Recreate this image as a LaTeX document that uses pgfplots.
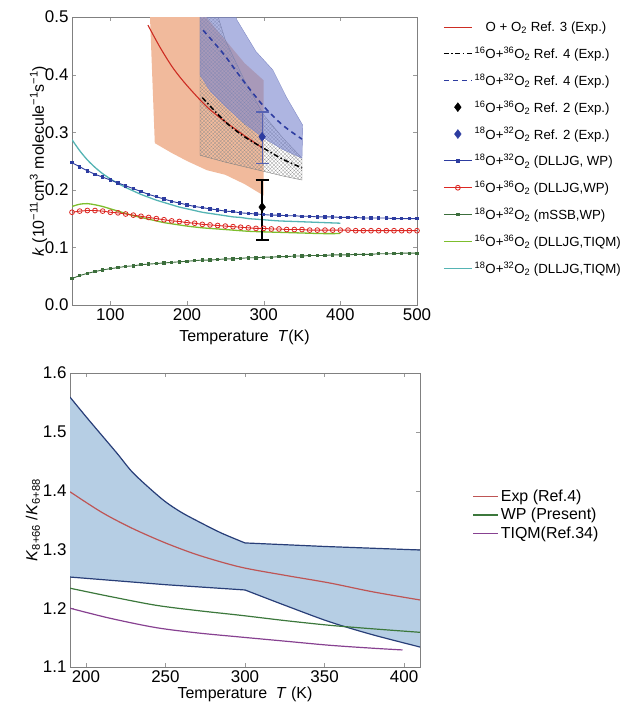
\documentclass[border=0pt]{standalone}
\usepackage{fontspec}
\setmainfont{Liberation Sans}
\usepackage{pgfplots}
\pgfplotsset{compat=1.18}
\usetikzlibrary{patterns.meta}
\definecolor{cOrange}{RGB}{241,186,156}
\definecolor{cBlueBand}{RGB}{120,132,205}
\definecolor{cRed}{RGB}{205,45,35}
\definecolor{cBlue}{RGB}{45,60,160}
\definecolor{cRedC}{RGB}{220,40,35}
\definecolor{cDGreen}{RGB}{60,110,60}
\definecolor{cLGreen}{RGB}{125,190,45}
\definecolor{cCyan}{RGB}{85,180,180}
\definecolor{cBand2}{RGB}{182,206,228}
\definecolor{cEdge2}{RGB}{40,62,120}
\definecolor{cRed2}{RGB}{190,85,85}
\definecolor{cGreen2}{RGB}{60,120,60}
\definecolor{cPurple2}{RGB}{135,65,145}
\pgfplotsset{
  every tick label/.append style={font=\fontsize{17}{20}\selectfont},
  every axis label/.append style={font=\fontsize{16}{19}\selectfont},
  /pgf/number format/assume math mode=true,
  mystyle/.style={scale only axis, anchor=north west,
    axis line style={gray}, tick style={gray!80}, major tick length=4bp},
}
\begin{document}
\begin{tikzpicture}
\path[use as bounding box] (0bp,0bp) rectangle (641bp,-711bp);
% ---------------- top panel ----------------
\begin{axis}[mystyle, at={(72bp,-17bp)}, width=345bp, height=288bp,
  xmin=50, xmax=500, ymin=0, ymax=0.5,
  xtick={100,200,300,400,500}, ytick={0,0.1,0.2,0.3,0.4,0.5},
  yticklabel style={/pgf/number format/.cd, fixed, fixed zerofill, precision=1},
  xlabel={Temperature \ \textit{T}(K)},
  ylabel={\textit{k} (10\textsuperscript{−11}cm\textsuperscript{3} molecule\textsuperscript{−1}s\textsuperscript{−1})},
  xlabel style={yshift=-3bp}, ylabel style={yshift=-9bp},
  legend image code/.code={\draw[mark repeat=2,mark phase=2,#1] plot coordinates {(0bp,0bp) (14bp,0bp) (28bp,0bp)};},
  legend style={at={(1.075,0.99)}, anchor=north west, draw=none, fill=none,
    font=\fontsize{13.3}{16}\selectfont, cells={anchor=west}, row sep=9.7bp, inner sep=0pt},
]
% orange band (Ref. 3)
\addplot[forget plot, fill=cOrange, draw=none] coordinates {
 (146,0.70) (175,0.62) (200,0.56) (225,0.50) (250,0.46) (275,0.42) (300,0.39)
 (300,0.190) (275,0.210) (250,0.226) (226,0.234) (200,0.250) (180,0.264) (158,0.281)} --cycle;
% hatched band (16O+36O2 Ref. 4)
\addplot[forget plot, pattern={Hatch[angle=45,distance=2.6bp,line width=0.18bp]}, pattern color=black!45, draw=gray, line width=0.4bp] coordinates {
 (217,0.60) (250,0.46) (275,0.39) (300,0.33) (325,0.29) (350,0.255)
 (350,0.217) (325,0.224) (300,0.232) (275,0.240) (250,0.248) (217,0.260)} --cycle;
% blue band (18O+32O2 Ref. 4)
\addplot[forget plot, fill=cBlueBand, fill opacity=0.6, draw=cBlue!60, line width=0.4bp] coordinates {
 (217,0.72) (240,0.60) (265,0.495) (290,0.44) (312,0.408) (330,0.36) (351,0.312)
 (350,0.255) (325,0.270) (300,0.290) (275,0.315) (250,0.345) (230,0.372) (217,0.40)} --cycle;
% red line Ref 3
\addplot[forget plot, cRed, line width=1.1bp, smooth] coordinates {
 (149,0.486) (165,0.447) (182,0.411) (200,0.381) (226,0.344) (250,0.318) (275,0.294) (298,0.273)};
% black dash-dot Ref 4
\addplot[forget plot, black, line width=1.5bp, dash pattern=on 5bp off 2.5bp on 1.5bp off 2.5bp, smooth] coordinates {
 (220,0.36) (250,0.318) (275,0.292) (304,0.269) (325,0.253) (350,0.238)};
% blue dashed Ref 4
\addplot[forget plot, cBlue, line width=1.6bp, dash pattern=on 5bp off 4bp, smooth] coordinates {
 (221,0.477) (247,0.437) (273,0.390) (300,0.345) (325,0.312) (350,0.288)};
% light green TIQM 16O
\addplot[forget plot, cLGreen, line width=1.3bp, smooth] coordinates {
 (50,0.171) (60,0.175) (70,0.176) (80,0.174) (90,0.171) (100,0.167) (110,0.163) (120,0.159)
 (130,0.155) (140,0.152) (150,0.149) (160,0.146) (170,0.143) (180,0.141) (190,0.139) (200,0.137)
 (220,0.134) (240,0.132) (260,0.130) (280,0.128) (300,0.127) (325,0.126) (350,0.125) (375,0.124) (400,0.124)};
% cyan TIQM 18O
\addplot[forget plot, cCyan, line width=1.3bp, smooth] coordinates {
 (50,0.287) (60,0.268) (70,0.252) (80,0.239) (90,0.228) (100,0.219) (110,0.211) (120,0.204)
 (130,0.198) (140,0.192) (150,0.187) (160,0.182) (170,0.178) (180,0.174) (190,0.170) (200,0.167)
 (210,0.164) (220,0.161) (230,0.159) (240,0.157) (250,0.155) (260,0.153) (270,0.152) (280,0.150)
 (290,0.149) (300,0.148) (320,0.146) (340,0.145) (360,0.144) (380,0.143) (400,0.142)};
% blue WP
\addplot[forget plot, cBlue, line width=0.9bp, mark=square*, mark size=1.2bp] coordinates {
 (50,0.247) (60,0.240) (70,0.233) (80,0.227) (90,0.222) (100,0.217) (110,0.212) (120,0.207)
 (130,0.202) (140,0.197) (150,0.192) (160,0.188) (170,0.184) (180,0.180) (190,0.177) (200,0.174)
 (210,0.171) (220,0.169) (230,0.167) (240,0.165) (250,0.163) (260,0.162) (270,0.160) (280,0.159)
 (290,0.158) (300,0.157) (310,0.156) (320,0.156) (330,0.155) (340,0.155) (350,0.154) (360,0.154)
 (370,0.153) (380,0.153) (390,0.153) (400,0.152) (410,0.152) (420,0.152) (430,0.151) (440,0.151)
 (450,0.151) (460,0.151) (470,0.150) (480,0.150) (490,0.150) (500,0.150)};
% red WP circles
\addplot[forget plot, cRedC, line width=0.9bp, mark=o, mark size=2.4bp, mark options={line width=0.8bp}] coordinates {
 (50,0.161) (60,0.163) (70,0.164) (80,0.164) (90,0.163) (100,0.161) (110,0.160) (120,0.158)
 (130,0.156) (140,0.154) (150,0.152) (160,0.150) (170,0.148) (180,0.146) (190,0.145) (200,0.143)
 (210,0.142) (220,0.140) (230,0.139) (240,0.138) (250,0.137) (260,0.136) (270,0.135) (280,0.134)
 (290,0.133) (300,0.133) (310,0.132) (320,0.132) (330,0.131) (340,0.131) (350,0.131) (360,0.130)
 (370,0.130) (380,0.130) (390,0.130) (400,0.130) (410,0.130) (420,0.129) (430,0.129) (440,0.129)
 (450,0.129) (460,0.129) (470,0.129) (480,0.129) (490,0.129) (500,0.129)};
% dark green mSSB WP
\addplot[forget plot, cDGreen, line width=0.9bp, mark=square*, mark size=1.2bp] coordinates {
 (50,0.046) (60,0.051) (70,0.055) (80,0.058) (90,0.061) (100,0.063) (110,0.065) (120,0.067)
 (130,0.068) (140,0.070) (150,0.071) (160,0.072) (170,0.073) (180,0.074) (190,0.075) (200,0.076)
 (210,0.077) (220,0.078) (230,0.078) (240,0.079) (250,0.080) (260,0.080) (270,0.081) (280,0.082)
 (290,0.082) (300,0.083) (310,0.083) (320,0.084) (330,0.084) (340,0.085) (350,0.085) (360,0.086)
 (370,0.086) (380,0.086) (390,0.087) (400,0.087) (410,0.087) (420,0.088) (430,0.088) (440,0.088)
 (450,0.089) (460,0.089) (470,0.089) (480,0.090) (490,0.090) (500,0.090)};
% Ref. 2 points with error bars
\addplot[forget plot, only marks, mark=diamond*, mark size=4.5bp, black,
  error bars/.cd, y dir=both, y explicit,
  error bar style={line width=1.3bp, black}, error mark options={rotate=90, mark size=6.5bp, line width=1.3bp, black}]
  coordinates {(298,0.170) += (0,0.047) -= (0,0.057)};
\addplot[forget plot, only marks, mark=diamond*, mark size=4.5bp, cBlue,
  error bars/.cd, y dir=both, y explicit,
  error bar style={line width=1.1bp, cBlue!80}, error mark options={rotate=90, mark size=6.5bp, line width=1.1bp, cBlue!80}]
  coordinates {(298,0.292) += (0,0.043) -= (0,0.047)};
% legend
\addlegendimage{cRed, line width=1.3bp}
\addlegendentry{\ \ \ O + O\textsubscript{2} Ref. 3 (Exp.)}
\addlegendimage{black, line width=1.5bp, dash pattern=on 5bp off 2.5bp on 1.5bp off 2.5bp}
\addlegendentry{\textsuperscript{16}O+\textsuperscript{36}O\textsubscript{2} Ref. 4 (Exp.)}
\addlegendimage{cBlue, line width=1.6bp, dash pattern=on 5bp off 4bp}
\addlegendentry{\textsuperscript{18}O+\textsuperscript{32}O\textsubscript{2} Ref. 4 (Exp.)}
\addlegendimage{only marks, mark=diamond*, mark size=4.5bp, black}
\addlegendentry{\textsuperscript{16}O+\textsuperscript{36}O\textsubscript{2} Ref. 2 (Exp.)}
\addlegendimage{only marks, mark=diamond*, mark size=4.5bp, cBlue}
\addlegendentry{\textsuperscript{18}O+\textsuperscript{32}O\textsubscript{2} Ref. 2 (Exp.)}
\addlegendimage{cBlue, line width=0.9bp, mark=square*, mark size=1.2bp}
\addlegendentry{\textsuperscript{18}O+\textsuperscript{32}O\textsubscript{2} (DLLJG, WP)}
\addlegendimage{cRedC, line width=0.9bp, mark=o, mark size=2.4bp}
\addlegendentry{\textsuperscript{16}O+\textsuperscript{36}O\textsubscript{2} (DLLJG,WP)}
\addlegendimage{cDGreen, line width=0.9bp, mark=square*, mark size=1.2bp}
\addlegendentry{\textsuperscript{18}O+\textsuperscript{32}O\textsubscript{2} (mSSB,WP)}
\addlegendimage{cLGreen, line width=1.5bp}
\addlegendentry{\textsuperscript{16}O+\textsuperscript{36}O\textsubscript{2} (DLLJG,TIQM)}
\addlegendimage{cCyan, line width=1.5bp}
\addlegendentry{\textsuperscript{18}O+\textsuperscript{32}O\textsubscript{2} (DLLJG,TIQM)}
\end{axis}
% ---------------- bottom panel ----------------
\begin{axis}[mystyle, at={(70bp,-373bp)}, width=350bp, height=294bp,
  xmin=190, xmax=410, ymin=1.1, ymax=1.6,
  xtick={200,250,300,350,400}, ytick={1.1,1.2,1.3,1.4,1.5,1.6},
  yticklabel style={/pgf/number format/.cd, fixed, fixed zerofill, precision=1},
  xlabel={Temperature \ \textit{T} (K)},
  ylabel={\textit{K}\textsubscript{8+66} /\textit{K}\textsubscript{6+88}},
  xlabel style={yshift=2bp}, ylabel style={yshift=-4bp},
  legend image code/.code={\draw[#1] plot coordinates {(0bp,0bp) (25bp,0bp)};},
  legend style={at={(1.15,0.61)}, anchor=north west, draw=none, fill=none,
    font=\fontsize{16}{19}\selectfont, cells={anchor=west}, row sep=1.5bp, inner sep=0pt},
]
\addplot[forget plot, fill=cBand2, draw=none] coordinates {
 (190,1.559) (200,1.526) (210,1.494) (220,1.462) (229,1.432) (240,1.404) (250,1.381) (260,1.363) (271,1.347) (285,1.328) (300,1.311) (350,1.305) (410,1.299)
 (410,1.134) (380,1.155) (353,1.177) (325,1.205) (300,1.231) (250,1.240) (190,1.253)} --cycle;
\addplot[forget plot, cEdge2, line width=1.2bp, smooth] coordinates {
 (190,1.559) (200,1.526) (210,1.494) (220,1.462) (229,1.432) (240,1.404) (250,1.381) (260,1.363) (271,1.347) (285,1.328) (300,1.311)};
\addplot[forget plot, cEdge2, line width=1.2bp] coordinates {
 (300,1.311) (350,1.305) (410,1.299)};
\addplot[forget plot, cEdge2, line width=1.2bp] coordinates {
 (190,1.253) (250,1.240) (300,1.231)};
\addplot[forget plot, cEdge2, line width=1.2bp, smooth] coordinates {
 (300,1.231) (325,1.205) (353,1.177) (380,1.155) (410,1.134)};
\addplot[cRed2, line width=1.2bp, smooth] coordinates {
 (190,1.398) (210,1.363) (229,1.336) (250,1.311) (271,1.290) (297,1.270) (325,1.256) (353,1.243) (380,1.228) (410,1.214)};
\addlegendentry{Exp (Ref.4)}
\addplot[cGreen2, line width=1.2bp, smooth] coordinates {
 (190,1.234) (215,1.220) (244,1.205) (270,1.196) (297,1.188) (325,1.179) (353,1.171) (380,1.165) (410,1.159)};
\addlegendentry{WP (Present)}
\addplot[cPurple2, line width=1.2bp, smooth] coordinates {
 (190,1.200) (215,1.183) (244,1.167) (270,1.158) (297,1.151) (325,1.144) (353,1.137) (380,1.132) (399,1.129)};
\addlegendentry{TIQM(Ref.34)}
\end{axis}
\end{tikzpicture}
\end{document}
